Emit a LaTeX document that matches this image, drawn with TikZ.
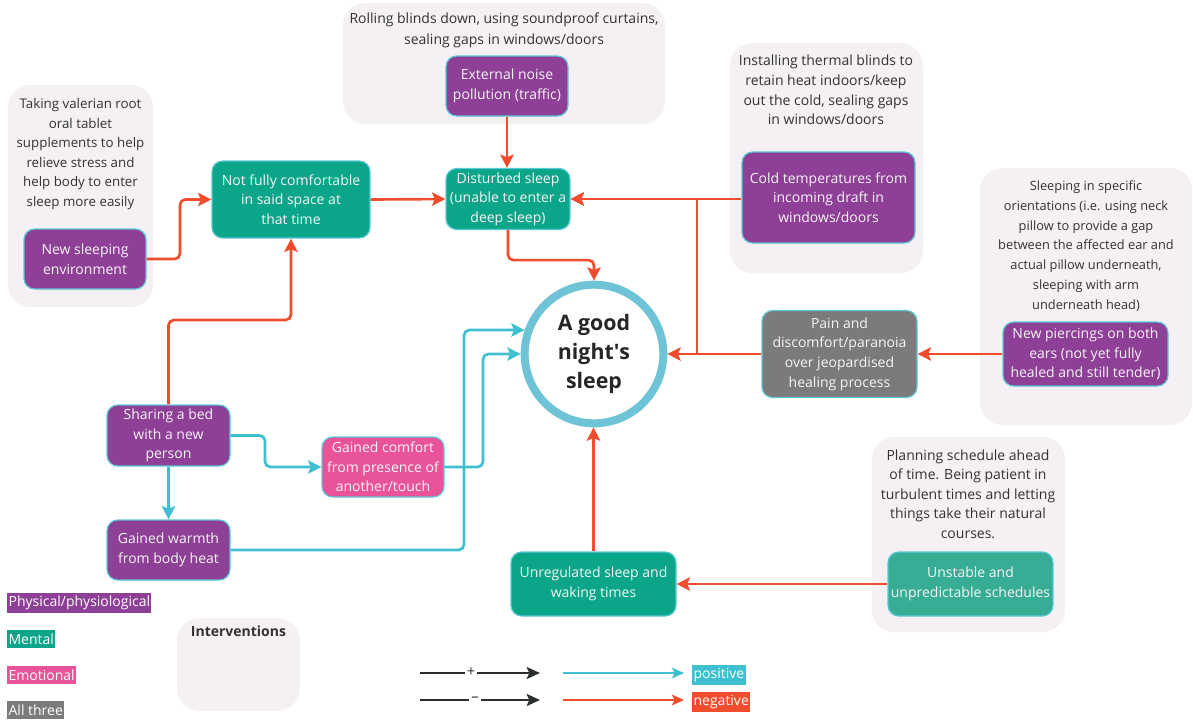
\documentclass[tikz,border=0pt]{standalone}
\usepackage{fontspec}
\setmainfont{Open Sans}
\usetikzlibrary{arrows.meta,calc}
\definecolor{purp}{HTML}{8E3F96}
\definecolor{mint}{HTML}{0BA68A}
\definecolor{mintl}{HTML}{38AD95}
\definecolor{pinkc}{HTML}{E8539A}
\definecolor{grayc}{HTML}{7B7B7B}
\definecolor{ibg}{HTML}{F4F0F4}
\definecolor{negc}{HTML}{EF4D2D}
\definecolor{posc}{HTML}{3EC0D0}
\definecolor{ringc}{HTML}{6EC3D6}
\definecolor{bord}{HTML}{5BC8D6}
\definecolor{txtc}{HTML}{333333}
\definecolor{darkc}{HTML}{2B2F2B}
\newcommand\boxfont{\fontsize{10.5}{14.7}\selectfont}
\newcommand\smallboxfont{\fontsize{9.6}{14.8}\selectfont}
\begin{document}
\begin{tikzpicture}[x=0.75pt,y=-0.75pt,
  box/.style={draw=bord, line width=0.9pt, rounded corners=8pt, align=center, text=white!96!black, font=\boxfont, inner sep=0pt},
  interv/.style={fill=ibg, rounded corners=17pt},
  itext/.style={align=center, text=txtc, font=\boxfont, inner sep=0pt},
  negarrow/.style={draw=negc, line width=2pt, -{Stealth[length=10pt,width=10pt,inset=2pt]}, rounded corners=4pt},
  posarrow/.style={draw=posc, line width=2pt, -{Stealth[length=10pt,width=10pt,inset=2pt]}, rounded corners=4pt},
  lab/.style={text=white, font=\boxfont, inner xsep=1pt, inner ysep=2.5pt},
  thinneg/.style={draw=negc, line width=1.5pt, -{Stealth[length=9pt,width=8pt,inset=2pt]}},
  thinpos/.style={draw=posc, line width=1.5pt, -{Stealth[length=9pt,width=8pt,inset=2pt]}},
  blk/.style={draw=darkc, line width=1.6pt},
  blkarrow/.style={draw=darkc, line width=1.6pt, -{Stealth[length=10pt,width=9pt,inset=2pt]}},
  sign/.style={inner sep=1.5pt, font=\fontsize{11}{11}\selectfont, text=darkc}
]
\useasboundingbox (0,0) rectangle (1193,719);

% intervention backgrounds
\fill[interv] (8,85) rectangle (153,307);
\fill[interv] (343,3) rectangle (665,124);
\fill[interv] (730,43) rectangle (923,273);
\fill[interv] (980,168) rectangle (1192,425);
\fill[interv] (872,437) rectangle (1065,632);
\fill[interv] (177,618) rectangle (300,711);

\node[itext, font=\fontsize{10}{14.7}\selectfont] (t1) at (80.5,154) {Taking valerian root\\oral tablet\\supplements to help\\relieve stress and\\help body to enter\\sleep more easily};
\node[itext, font=\fontsize{10.5}{15.5}\selectfont] (t2) at (504,30.5) {Rolling blinds down, using soundproof curtains,\\sealing gaps in windows/doors};
\node[itext] (t3) at (826,90) {Installing thermal blinds to\\retain heat indoors/keep\\out the cold, sealing gaps\\in windows/doors};
\node[itext, font=\smallboxfont] (t4) at (1086,246) {Sleeping in specific\\orientations (i.e. using neck\\pillow to provide a gap\\between the affected ear and\\actual pillow underneath,\\sleeping with arm\\underneath head)};
\node[itext] (t5) at (968,494) {Planning schedule ahead\\of time. Being patient in\\turbulent times and letting\\things take their natural\\courses.};
\node[itext, font=\boxfont\bfseries] (t6) at (238.5,631) {Interventions};

% boxes
\node[box, fill=purp, minimum width=91.5pt, minimum height=45pt] (env) at (85,259) {New sleeping\\environment};
\node[box, fill=mint, minimum width=118.5pt, minimum height=57.75pt] (comf) at (291,199.5) {Not fully comfortable\\in said space at\\that time};
\node[box, fill=mint, minimum width=93pt, minimum height=45.75pt] (dist) at (508,199) {Disturbed sleep\\(unable to enter a\\deep sleep)};
\node[box, fill=purp, minimum width=91.5pt, minimum height=45pt] (noise) at (507,86) {External noise\\pollution (traffic)};
\node[box, fill=purp, minimum width=129.75pt, minimum height=68.25pt] (cold) at (828.5,197.5) {Cold temperatures from\\incoming draft in\\windows/doors};
\node[box, fill=grayc, minimum width=116.25pt, minimum height=65.25pt] (pain) at (839.5,354) {Pain and\\discomfort/paranoia\\over jeopardised\\healing process};
\node[box, fill=purp, minimum width=123.75pt, minimum height=48pt] (pierce) at (1085.5,354) {New piercings on both\\ears (not yet fully\\healed and still tender)};
\node[box, fill=purp, minimum width=92.25pt, minimum height=45.75pt] (bed) at (168.5,435.5) {Sharing a bed\\with a new\\person};
\node[box, fill=purp, minimum width=92.25pt, minimum height=45pt] (warm) at (168.5,550) {Gained warmth\\from body heat};
\node[box, fill=pinkc, minimum width=91.5pt, minimum height=45pt] (cmft) at (383,467) {Gained comfort\\from presence of\\another/touch};
\node[box, fill=mint, minimum width=123.75pt, minimum height=48pt] (unreg) at (593.5,584) {Unregulated sleep and\\waking times};
\node[box, fill=mintl, minimum width=123.75pt, minimum height=48pt] (unst) at (970.5,584) {Unstable and\\unpredictable schedules};

\node[circle, draw=ringc, line width=6pt, fill=white, minimum size=104pt, align=center, inner sep=0pt,
  font=\fontsize{16}{22}\selectfont\bfseries, text=black!85] (sleep) at (594,354) {A good\\night\textquotesingle s\\sleep};

% junction coordinates
\coordinate (j1) at (180,259);
\coordinate (j2) at (230,320);
\coordinate (j3) at (697,354);
\coordinate (j4) at (265,435.5);
\coordinate (j5) at (483,354);
\coordinate (j6) at (464,330);

% negative connectors
\draw[negarrow] (env.east) -- (j1) |- (comf.west);
\draw[negarrow] (bed.north) |- (j2) -| (comf.south);
\draw[negarrow] (comf.east) -- (dist.west);
\draw[negarrow] (noise.south) -- (noise.south |- dist.north);
\draw[negarrow] (cold.west |- dist.east) -- (dist.east);
\draw[negarrow] (dist.south) -- ++(0,30) -| (sleep.north);
\draw[negarrow] (pain.west) -- (sleep.east);
\draw[negarrow, rounded corners=0pt] (j3) -- (j3 |- dist.east) -- (dist.east);
\draw[negarrow] (pierce.west) -- (pain.east);
\draw[negarrow] (unst.west) -- (unreg.east);
\draw[negarrow] (unreg.north) -- (unreg.north |- sleep.south);

% positive connectors
\draw[posarrow] (bed.east) -- (j4) |- (cmft.west);
\draw[posarrow] (bed.south) -- (warm.north);
\draw[posarrow] (cmft.east) -| (j5) -- (sleep.west);
\draw[posarrow] (warm.east) -| (j6) -- (j6 -| sleep.161);

% legend
\node[lab, fill=purp, anchor=west] (lphys) at (7,603) {Physical/physiological};
\node[lab, fill=mint, anchor=west] (lment) at (7,639) {Mental};
\node[lab, fill=pinkc, anchor=west] (lemo) at (7,675) {Emotional};
\node[lab, fill=grayc, anchor=west] (lall) at (7,710) {All three};

\coordinate (b1s) at (420,673);
\coordinate (b1e) at (540,673);
\coordinate (b2s) at (420,700);
\coordinate (b2e) at (540,700);
\node[sign] (plus) at (471,672) {+};
\node[sign] (minus) at (475,699.5) {--};
\draw[blk] (b1s) -- (b1s -| plus.west);
\draw[blkarrow] (b1s -| plus.east) -- (b1e);
\draw[blk] (b2s) -- (b2s -| minus.west);
\draw[blkarrow] (b2s -| minus.east) -- (b2e);

\coordinate (p1s) at (563,673);
\coordinate (p1e) at (684,673);
\coordinate (n1s) at (563,700);
\coordinate (n1e) at (684,700);
\node[lab, fill=posc, anchor=west] (lpos) at (692,675) {positive};
\node[lab, fill=negc, anchor=west] (lneg) at (692,702) {negative};
\draw[thinpos] (p1s) -- (p1e);
\draw[thinneg] (n1s) -- (n1e);
\end{tikzpicture}
\end{document}
